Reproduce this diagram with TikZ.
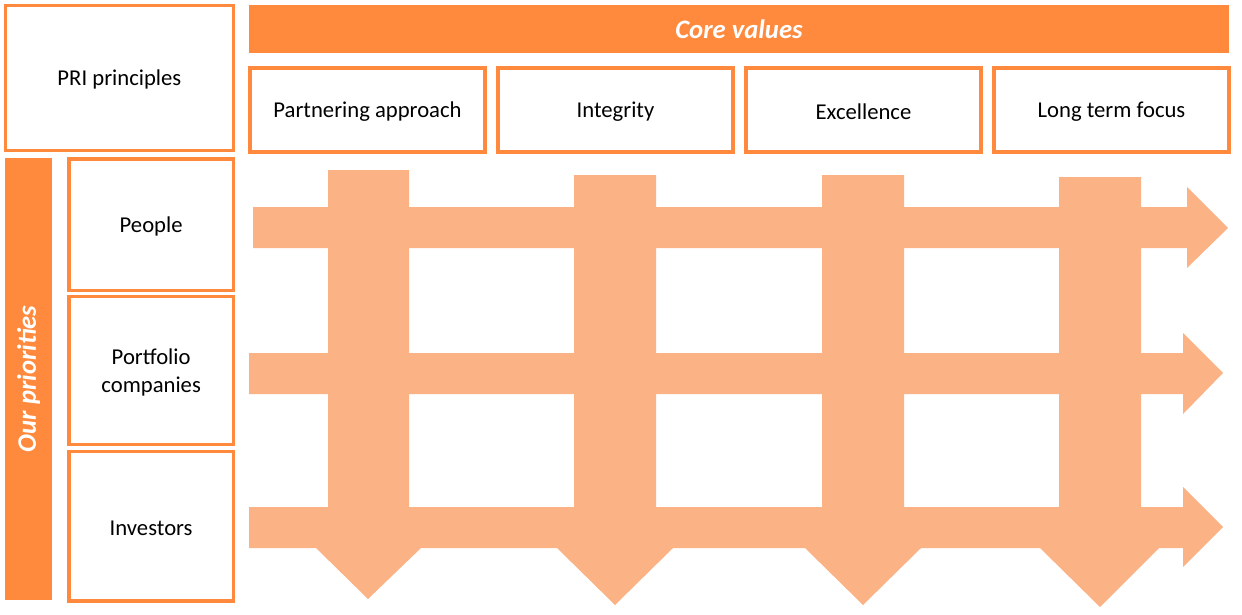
\documentclass[tikz,border=0pt]{standalone}
\usepackage{fontspec}
\setmainfont{Carlito}
\usetikzlibrary{fit}
\definecolor{darkor}{HTML}{FF8A3D}
\definecolor{lightor}{HTML}{FBB386}
\tikzset{
  vbox/.style={draw=darkor, line width=2.3pt, fill=white, inner sep=0pt},
  vtext/.style={align=center, font=\fontsize{17}{21}\selectfont, text=black, inner sep=0pt, yshift=-1.5pt},
  headbar/.style={fill=darkor, inner sep=0pt},
  headtext/.style={text=white, font=\fontsize{20}{22}\selectfont\bfseries\itshape},
  flow/.style={fill=lightor, draw=none}
}
\begin{document}
\begin{tikzpicture}[x=0.75pt,y=-0.75pt]
\useasboundingbox (0,0) rectangle (1242,614);
% flow arrows
\fill[flow] (253,207) -- (1187,207) -- (1187,187) -- (1228,228) -- (1187,268) -- (1187,248) -- (253,248) -- cycle;
\fill[flow] (249,353) -- (1183,353) -- (1183,333) -- (1223,373) -- (1183,414) -- (1183,394) -- (249,394) -- cycle;
\fill[flow] (249,507) -- (1183,507) -- (1183,487) -- (1223,527) -- (1183,567) -- (1183,548) -- (249,548) -- cycle;
\fill[flow] (328,170) -- (409,170) -- (409,548) -- (421,548) -- (368,599) -- (316,548) -- (328,548) -- cycle;
\fill[flow] (574,175) -- (656,175) -- (656,548) -- (673,548) -- (615,605) -- (557,548) -- (574,548) -- cycle;
\fill[flow] (822,175) -- (904,175) -- (904,548) -- (921,548) -- (863,605) -- (805,548) -- (822,548) -- cycle;
\fill[flow] (1059,177) -- (1141,177) -- (1141,548) -- (1159,548) -- (1100,607) -- (1040,548) -- (1059,548) -- cycle;
% header bars
\node[headbar, fit={(249,5) (1229,52.5)}] (core) {};
\node[headtext] (coretext) at (core.center) {Core values};
\node[headbar, fit={(5,158) (52,600)}] (prio) {};
\node[headtext, rotate=90] (priotext) at (prio.center) {Our priorities};
% boxes
\node[vbox, fit={(5.5,5.5) (233.3,150.3)}] (pri) {};
\node[vtext] (pritext) at (pri.center) {PRI principles};
\node[vbox, fit={(250,68) (485,152)}] (v1) {};
\node[vtext] (v1text) at (v1.center) {Partnering approach};
\node[vbox, fit={(498,68) (733,152)}] (v2) {};
\node[vtext] (v2text) at (v2.center) {Integrity};
\node[vbox, fit={(746,68) (981,152)}] (v3) {};
\node[vtext] (v3text) at (v3.center) {Excellence};
\node[vbox, fit={(994,68) (1229,152)}] (v4) {};
\node[vtext] (v4text) at (v4.center) {Long term focus};
\node[vbox, fit={(69,159) (233.3,290.5)}] (p1) {};
\node[vtext] (p1text) at (p1.center) {People};
\node[vbox, fit={(69,296.5) (233.3,444.5)}] (p2) {};
\node[vtext] (p2text) at (p2.center) {Portfolio\\companies};
\node[vbox, fit={(69,451.5) (233.3,601)}] (p3) {};
\node[vtext] (p3text) at (p3.center) {Investors};
\end{tikzpicture}
\end{document}
